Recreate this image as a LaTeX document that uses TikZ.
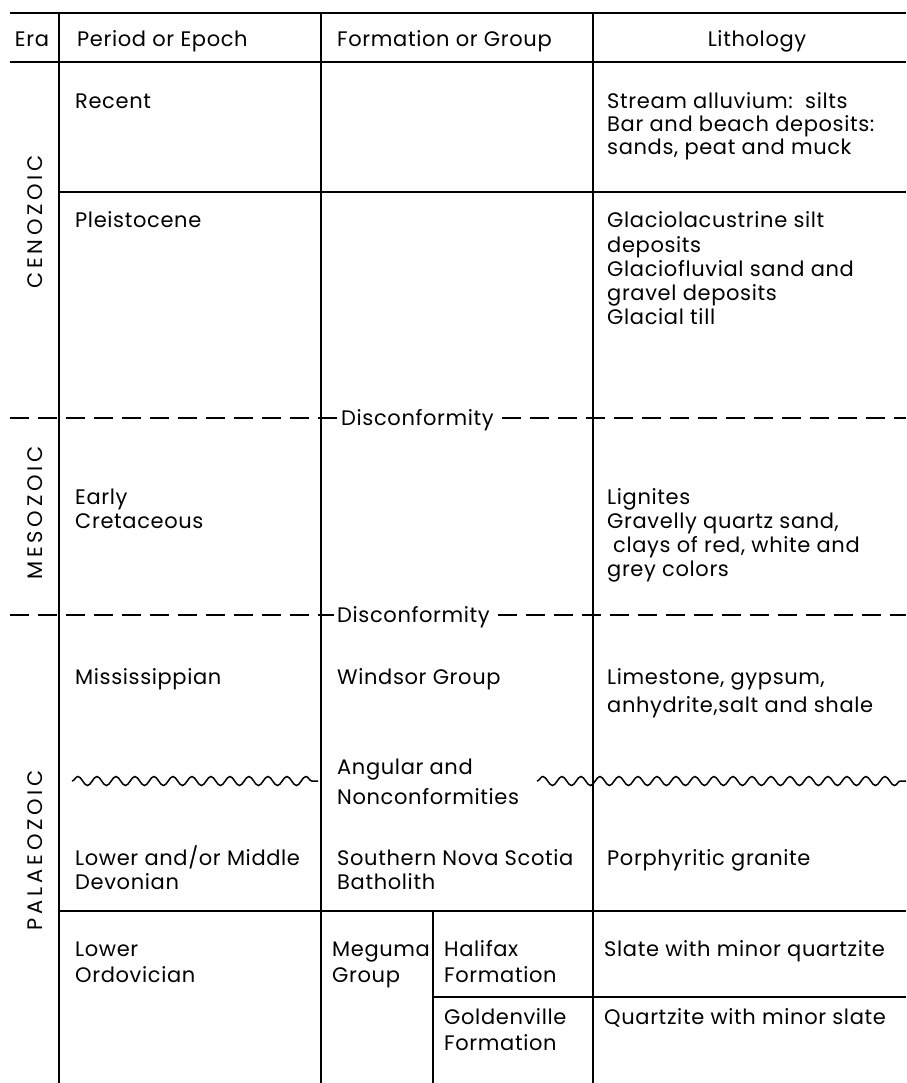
\documentclass[tikz,border=0pt]{standalone}
\usepackage{fontspec}
\setmainfont{Poppins}[LetterSpace=3]
\newfontfamily\erafont{Poppins}[LetterSpace=18]
\usetikzlibrary{decorations.pathmorphing}
\begin{document}
\begin{tikzpicture}[x=1pt,y=-1pt,
  rule/.style={line width=1.8pt},
  dashrule/.style={line width=1.8pt, dash pattern=on 19pt off 9pt},
  wavy/.style={line width=1.5pt, decorate, decoration={snake, segment length=19pt, amplitude=4.5pt}},
  txt/.style={anchor=base west, inner sep=0pt, font=\fontsize{21}{25}\selectfont},
  hdr/.style={anchor=base, inner sep=0pt, font=\fontsize{21}{25}\selectfont},
  eralbl/.style={rotate=90, inner sep=0pt, font=\erafont\fontsize{21}{25}\selectfont}]
\useasboundingbox (0,0) rectangle (906,1083);
% grid coordinates
\coordinate (tl) at (10,13);   \coordinate (tr) at (906,13);
\coordinate (hl) at (10,62);   \coordinate (hr) at (906,62);
\coordinate (v1t) at (59,13);  \coordinate (v1b) at (59,1083);
\coordinate (v2t) at (321,13); \coordinate (v2b) at (321,1083);
\coordinate (v3t) at (593,13); \coordinate (v3b) at (593,1083);
\coordinate (v4t) at (433,911); \coordinate (v4b) at (433,1083);
\coordinate (r1l) at (59,192); \coordinate (r1r) at (906,192);
\coordinate (r2l) at (59,911); \coordinate (r2r) at (906,911);
\coordinate (r3l) at (433,997); \coordinate (r3r) at (906,997);
\draw[rule] (tl) -- (tr);
\draw[rule] (hl) -- (hr);
\draw[rule] (v1t) -- (v1b);
\draw[rule] (v2t) -- (v2b);
\draw[rule] (v3t) -- (v3b);
\draw[rule] (v4t) -- (v4b);
\draw[rule] (r1l) -- (r1r);
\draw[rule] (r2l) -- (r2r);
\draw[rule] (r3l) -- (r3r);
% header
\node[hdr] (hera) at (32,47) {Era};
\node[txt] (hper) at (77,47) {Period or Epoch};
\node[txt] (hfor) at (337,47) {Formation or Group};
\node[hdr] (hlit) at (757,47) {Lithology};
% era labels
\node[eralbl] (ceno) at (35,222) {CENOZOIC};
\node[eralbl] (meso) at (35,513) {MESOZOIC};
\node[eralbl] (pala) at (35,850) {PALAEOZOIC};
% Recent
\node[txt] (rec) at (75,109) {Recent};
\node[txt] (l1a) at (607,109) {Stream alluvium:\ \ silts};
\node[txt] (l1b) at (607,132) {Bar and beach deposits:};
\node[txt] (l1c) at (607,155) {sands, peat and muck};
% Pleistocene
\node[txt] (ple) at (75,228) {Pleistocene};
\node[txt] (l2a) at (607,228) {Glaciolacustrine silt};
\node[txt] (l2b) at (607,252) {deposits};
\node[txt] (l2c) at (607,276) {Glaciofluvial sand and};
\node[txt] (l2d) at (607,300) {gravel deposits};
\node[txt] (l2e) at (607,324) {Glacial till};
% Disconformity 1
\node[txt] (dis1) at (341,425) {Disconformity};
\coordinate (d1l) at (10,418); \coordinate (d1r) at (906,418);
\draw[dashrule] (d1l) -- ([xshift=-4pt]dis1.west |- d1l);
\draw[dashrule] ([xshift=8pt]dis1.east |- d1l) -- (d1r);
% Early Cretaceous
\node[txt] (ear) at (75,504) {Early};
\node[txt] (cre) at (75,528) {Cretaceous};
\node[txt] (l3a) at (607,504) {Lignites};
\node[txt] (l3b) at (607,528) {Gravelly quartz sand,};
\node[txt] (l3c) at (613,552) {clays of red, white and};
\node[txt] (l3d) at (607,576) {grey colors};
% Disconformity 2
\node[txt] (dis2) at (337,622) {Disconformity};
\coordinate (d2l) at (10,615); \coordinate (d2r) at (906,615);
\draw[dashrule] (d2l) -- ([xshift=-3pt]dis2.west |- d2l);
\draw[dashrule] ([xshift=8pt]dis2.east |- d2l) -- (d2r);
% Mississippian
\node[txt] (mis) at (75,684) {Mississippian};
\node[txt] (win) at (337,684) {Windsor Group};
\node[txt] (l4a) at (607,684) {Limestone, gypsum,};
\node[txt] (l4b) at (607,712) {anhydrite,salt and shale};
% unconformity
\node[txt] (ang) at (337,774) {Angular and};
\node[txt] (non) at (337,804) {Nonconformities};
\coordinate (w1a) at (72,781); \coordinate (w1b) at (318,781);
\coordinate (w2a) at (537,781); \coordinate (w2b) at (906,781);
\draw[wavy] (w1a) -- (w1b);
\draw[wavy] (w2a) -- (w2b);
% Devonian
\node[txt] (low1) at (75,865) {Lower and/or Middle};
\node[txt] (dev) at (75,889) {Devonian};
\node[txt] (sns) at (337,865) {Southern Nova Scotia};
\node[txt] (bat) at (337,889) {Batholith};
\node[txt] (l5a) at (607,865) {Porphyritic granite};
% Ordovician
\node[txt] (low2) at (75,956) {Lower};
\node[txt] (ord) at (75,982) {Ordovician};
\node[txt] (meg) at (332,956) {Meguma};
\node[txt] (grp) at (332,982) {Group};
\node[txt] (hal) at (444,956) {Halifax};
\node[txt] (hfm) at (444,982) {Formation};
\node[txt] (l6a) at (604,956) {Slate with minor quartzite};
\node[txt] (gol) at (444,1024) {Goldenville};
\node[txt] (gfm) at (444,1050) {Formation};
\node[txt] (l6b) at (604,1024) {Quartzite with minor slate};
\end{tikzpicture}
\end{document}
